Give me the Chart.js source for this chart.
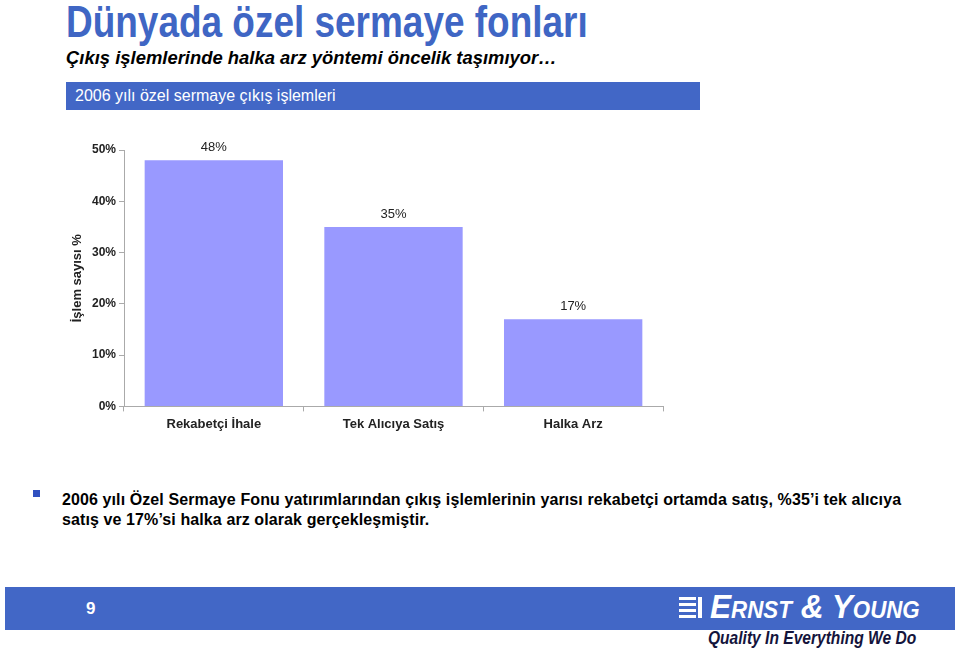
<!DOCTYPE html>
<html>
<head>
<meta charset="utf-8">
<title>Dünyada özel sermaye fonları</title>
<script src="https://cdn.jsdelivr.net/npm/chart.js"></script>
<style>
  body { margin: 0; width: 960px; height: 650px; background: #fff; position: relative; overflow: hidden;
         font-family: "Liberation Sans", Arial, sans-serif; }
  .abs { position: absolute; white-space: nowrap; transform-origin: 0 0; }
  #title { left: 66px; top: -3px; font-size: 44px; font-weight: bold; color: #3f66c4; transform: scaleX(0.84); }
  #subtitle { left: 66px; top: 47px; font-size: 19px; font-weight: bold; font-style: italic; color: #000; transform: scaleX(0.97); }
  #band { left: 66px; top: 82px; width: 634px; height: 28px; background: #4267c6; }
  #bandText { left: 75px; top: 87px; font-size: 16px; color: #fff; }
  #chartBox { left: 60px; top: 130px; width: 620px; height: 307px; }
  #bullet { left: 33px; top: 490px; width: 7px; height: 7px; background: #3050c0; }
  .para { left: 62px; font-size: 16px; font-weight: bold; color: #000; letter-spacing: 0.1px; }
  #footer { left: 5px; top: 587px; width: 950px; height: 43px; background: #4267c6; }
  #pageNo { left: 86px; top: 599px; font-size: 17px; color: #fff; font-weight: bold; }
  #ey { left: 710px; top: 587px; font-size: 34px; font-weight: bold; font-style: italic; color: #fff;
        font-variant: small-caps; transform: scaleX(0.93); }
  #quality { left: 708px; top: 628px; font-size: 18px; font-weight: bold; font-style: italic; color: #14143c; transform: scaleX(0.865); }
  .logoBar { position: absolute; background: #fff; height: 3px; }
</style>
</head>
<body>
<div id="title" class="abs">Dünyada özel sermaye fonları</div>
<div id="subtitle" class="abs">Çıkış işlemlerinde halka arz yöntemi öncelik taşımıyor…</div>
<div id="band" class="abs"></div>
<div id="bandText" class="abs">2006 yılı özel sermaye çıkış işlemleri</div>
<div id="chartBox" class="abs"><canvas id="chart" width="620" height="307"></canvas></div>
<div id="bullet" class="abs"></div>
<div class="abs para" style="top:491px">2006 yılı Özel Sermaye Fonu yatırımlarından çıkış işlemlerinin yarısı rekabetçi ortamda satış, %35’i tek alıcıya</div>
<div class="abs para" style="top:511px">satış ve 17%’si halka arz olarak gerçekleşmiştir.</div>
<div id="footer" class="abs"></div>
<div id="pageNo" class="abs">9</div>
<div class="logoBar" style="left:679px;top:597px;width:17px"></div>
<div class="logoBar" style="left:679px;top:603px;width:17px"></div>
<div class="logoBar" style="left:679px;top:609px;width:17px"></div>
<div class="logoBar" style="left:679px;top:615px;width:17px"></div>
<div class="logoBar" style="left:698px;top:597px;width:4px;height:21px"></div>
<div id="ey" class="abs">Ernst &amp; Young</div>
<div id="quality" class="abs">Quality In Everything We Do</div>

<script>
  const categories = ["Rekabetçi İhale", "Tek Alıcıya Satış", "Halka Arz"];
  const shares = [48, 35, 17];
  const yTicks = [0, 10, 20, 30, 40, 50];

  const valueLabels = {
    id: "valueLabels",
    afterDatasetsDraw(chart) {
      const ctx = chart.ctx;
      const meta = chart.getDatasetMeta(0);
      ctx.save();
      ctx.font = "13px 'Liberation Sans', Arial, sans-serif";
      ctx.fillStyle = "#222";
      ctx.textAlign = "center";
      ctx.textBaseline = "bottom";
      meta.data.forEach((bar, i) => {
        ctx.fillText(shares[i] + "%", bar.x, bar.y - 6);
      });
      ctx.restore();
    }
  };

  const ctx = document.getElementById("chart").getContext("2d");
  new Chart(ctx, {
    type: "bar",
    data: {
      labels: categories,
      datasets: [{
        data: shares,
        backgroundColor: "#9999ff",
        borderWidth: 0,
        categoryPercentage: 1,
        barPercentage: 0.77
      }]
    },
    options: {
      responsive: false,
      animation: false,
      layout: { padding: { top: 20, right: 17, left: 0, bottom: 0 } },
      plugins: { legend: { display: false }, tooltip: { enabled: false } },
      scales: {
        x: {
          grid: { drawOnChartArea: false, tickLength: 5, color: "#aaa" },
          border: { color: "#aaa" },
          ticks: { color: "#222", padding: 5, font: { family: "'Liberation Sans', Arial", size: 13, weight: "bold" } }
        },
        y: {
          min: 0,
          max: 50,
          afterBuildTicks: axis => { axis.ticks = yTicks.map(v => ({ value: v })); },
          afterFit: axis => { axis.width = 64; },
          grid: { drawOnChartArea: false, tickLength: 5, color: "#aaa" },
          border: { color: "#aaa" },
          ticks: { color: "#222", padding: 3, callback: v => v + "%",
                   font: { family: "'Liberation Sans', Arial", size: 12, weight: "bold" } },
          title: { display: true, text: "İşlem sayısı %", color: "#222", padding: { top: 10, bottom: 0 },
                   font: { family: "'Liberation Sans', Arial", size: 13, weight: "bold" } }
        }
      }
    },
    plugins: [valueLabels]
  });
</script>
</body>
</html>
